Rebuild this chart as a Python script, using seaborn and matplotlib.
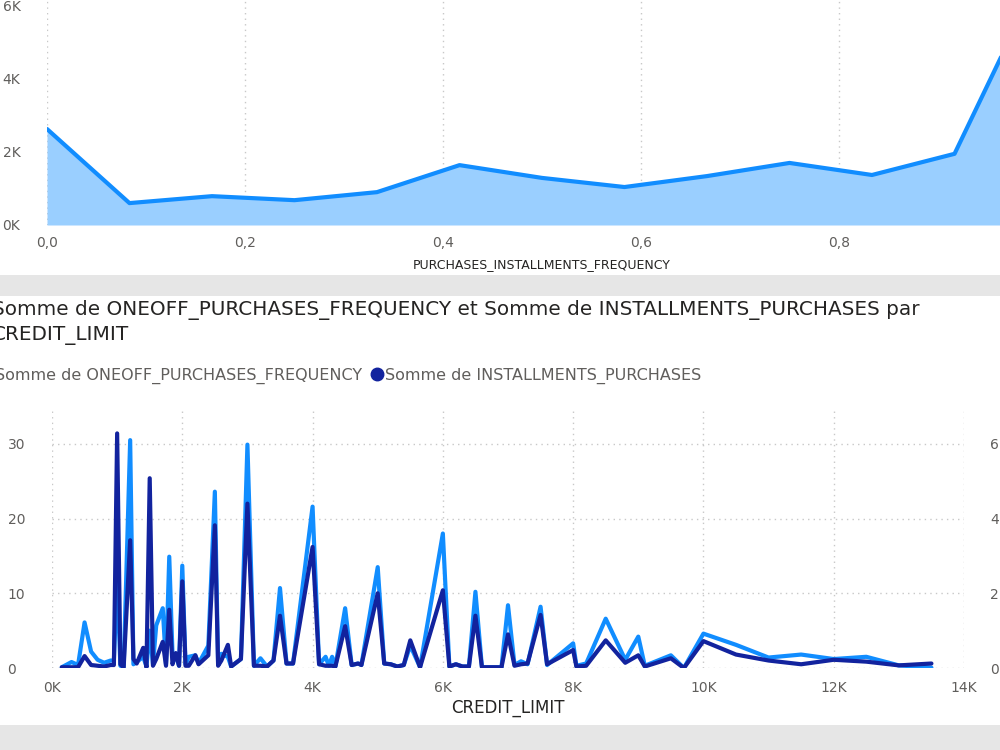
import pandas as pd
import seaborn as sns
import matplotlib.pyplot as plt
from matplotlib.patches import Rectangle
from matplotlib.lines import Line2D
from matplotlib.ticker import FuncFormatter

sns.set_theme(style="white")
plt.rcParams['font.family'] = ['DejaVu Sans']

# top panel: count by PURCHASES_INSTALLMENTS_FREQUENCY
freq_x = [0.0, 0.0833, 0.1667, 0.25, 0.3333, 0.4167, 0.5, 0.5833, 0.6667, 0.75, 0.8333, 0.9167, 1.0]
freq_count = [2630, 600, 790, 680, 900, 1640, 1290, 1040, 1340, 1700, 1370, 1950, 6650]

# bottom panel: sums by CREDIT_LIMIT
credit_limit = [150, 300, 400, 500, 600, 700, 800, 900, 950, 1000, 1050, 1100, 1200, 1250, 1300,
                1400, 1450, 1500, 1550, 1600, 1700, 1750, 1800, 1850, 1900, 1950, 2000, 2050, 2100,
                2200, 2250, 2400, 2500, 2550, 2600, 2700, 2750, 2900, 3000, 3100, 3200, 3300, 3400,
                3500, 3600, 3700, 4000, 4100, 4200, 4250, 4300, 4350, 4500, 4600, 4700, 4750, 5000,
                5100, 5200, 5300, 5400, 5500, 5650, 6000, 6100, 6200, 6300, 6400, 6500, 6600, 6900,
                7000, 7100, 7200, 7300, 7500, 7600, 8000, 8050, 8200, 8500, 8800, 9000, 9100, 9500,
                9700, 10000, 10500, 11000, 11500, 12000, 12500, 13000, 13500]
oneoff_freq = [0.1, 0.8, 0.4, 6.1, 2.2, 1.1, 0.7, 1.0, 1.0, 12.0, 0.3, 0.1, 30.5, 0.5, 0.8,
               1.5, 0.2, 5.0, 0.5, 5.7, 8.0, 0.5, 14.9, 1.8, 1.6, 0.3, 13.7, 0.5, 1.5,
               1.7, 0.6, 3.0, 23.6, 0.5, 1.9, 1.5, 0.2, 1.2, 29.9, 0.3, 1.3, 0.2, 1.0,
               10.7, 0.6, 0.6, 21.6, 0.5, 1.5, 0.3, 1.5, 0.2, 8.0, 0.4, 0.6, 0.4, 13.5,
               0.6, 0.5, 0.2, 0.4, 3.0, 0.1, 18.0, 0.2, 0.5, 0.2, 0.2, 10.2, 0.1, 0.1,
               8.4, 0.4, 0.9, 0.5, 8.2, 0.4, 3.3, 0.3, 0.6, 6.6, 1.1, 4.2, 0.3, 1.7,
               0.0, 4.6, 3.1, 1.4, 1.8, 1.2, 1.5, 0.35, 0.05]
installments = [20, 20, 20, 320, 80, 60, 40, 80, 80, 6280, 100, 20, 3420, 240, 120,
                540, 20, 5080, 60, 240, 700, 60, 1560, 100, 400, 60, 2320, 60, 60,
                340, 100, 340, 3820, 60, 200, 620, 40, 240, 4400, 60, 60, 40, 200,
                1400, 120, 120, 3240, 100, 60, 60, 60, 40, 1120, 80, 120, 80, 2000,
                120, 100, 40, 80, 740, 20, 2080, 40, 100, 40, 40, 1400, 20, 20,
                900, 60, 100, 120, 1420, 100, 480, 40, 60, 740, 140, 340, 40, 260,
                0, 720, 360, 200, 100, 220, 170, 70, 120]

top_df = pd.DataFrame({'PURCHASES_INSTALLMENTS_FREQUENCY': freq_x, 'count': freq_count})
bot_df = pd.DataFrame({'CREDIT_LIMIT': credit_limit,
                       'ONEOFF_PURCHASES_FREQUENCY': oneoff_freq,
                       'INSTALLMENTS_PURCHASES': installments})

light = '#118DFF'
dark = '#12239E'
fill = '#9ACFFF'
tick_col = '#605E5C'
grid_kw = dict(color='#C8C8C8', linestyle=(0, (1, 3)), linewidth=1)

fig = plt.figure(figsize=(10, 7.5), dpi=100)
fig.patch.set_facecolor('white')
# report canvas bands between the visuals
fig.patches.append(Rectangle((0, 1 - 296 / 750), 1, 21 / 750, transform=fig.transFigure,
                             facecolor='#E6E6E6', edgecolor='none', zorder=0))
fig.patches.append(Rectangle((0, 0), 1, 25 / 750, transform=fig.transFigure,
                             facecolor='#E6E6E6', edgecolor='none', zorder=0))

kfmt = FuncFormatter(lambda v, p: f"{v / 1000:.0f}K")

# ---- top area chart (cropped by the screenshot) ----
ax1 = fig.add_axes([0.047, 0.7, 0.99, 0.3407])
ax1.fill_between(top_df['PURCHASES_INSTALLMENTS_FREQUENCY'], top_df['count'], color=fill, lw=0)
sns.lineplot(data=top_df, x='PURCHASES_INSTALLMENTS_FREQUENCY', y='count', color=light,
             linewidth=3, ax=ax1, estimator=None)
ax1.set_xlim(0, 1.0)
ax1.set_ylim(0, 7000)
ax1.set_xticks([0, 0.2, 0.4, 0.6, 0.8, 1.0])
ax1.set_xticklabels(['0,0', '0,2', '0,4', '0,6', '0,8', '1,0'])
ax1.set_yticks([0, 2000, 4000, 6000])
ax1.yaxis.set_major_formatter(kfmt)
ax1.xaxis.grid(True, **grid_kw)
ax1.yaxis.grid(False)
ax1.set_axisbelow(True)
ax1.tick_params(axis='x', colors=tick_col, labelsize=10, length=0, pad=8)
ax1.tick_params(axis='y', colors=tick_col, labelsize=10, length=0, pad=32)
for lab in ax1.get_yticklabels():
    lab.set_horizontalalignment('left')
ax1.set_xlabel('PURCHASES_INSTALLMENTS_FREQUENCY', fontsize=9, color='#252423', labelpad=6)
ax1.set_ylabel('')
sns.despine(ax=ax1, left=True, bottom=True)

# ---- bottom dual-axis line chart ----
fig.text(-0.008, 1 - 310 / 750, 'Somme de ONEOFF_PURCHASES_FREQUENCY et Somme de INSTALLMENTS_PURCHASES par',
         fontsize=14.4, color='#252423', va='center', ha='left')
fig.text(-0.008, 1 - 336 / 750, 'CREDIT_LIMIT', fontsize=14.4, color='#252423', va='center', ha='left')

handles = [Line2D([], [], marker='o', linestyle='none', color=light, markersize=9),
           Line2D([], [], marker='o', linestyle='none', color=dark, markersize=9)]
fig.legend(handles, ['Somme de ONEOFF_PURCHASES_FREQUENCY', 'Somme de INSTALLMENTS_PURCHASES'],
           loc='center left', bbox_to_anchor=(-0.019, 1 - 376 / 750), ncol=2, frameon=False,
           handletextpad=0.1, columnspacing=0.5, handlelength=0.8, fontsize=11.5,
           labelcolor=tick_col, borderpad=0, borderaxespad=0)

ax2 = fig.add_axes([0.052, 1 - 668 / 750, 0.912, 260 / 750])
sns.lineplot(data=bot_df, x='CREDIT_LIMIT', y='ONEOFF_PURCHASES_FREQUENCY', color=light,
             linewidth=3, ax=ax2, estimator=None)
ax2.set_xlim(0, 14000)
ax2.set_ylim(0, 34.8)
ax2.set_xticks([0, 2000, 4000, 6000, 8000, 10000, 12000, 14000])
ax2.xaxis.set_major_formatter(kfmt)
ax2.set_yticks([0, 10, 20, 30])
ax2.grid(True, **grid_kw)
ax2.set_axisbelow(True)
ax2.tick_params(axis='x', colors=tick_col, labelsize=10, length=0, pad=9)
ax2.tick_params(axis='y', colors=tick_col, labelsize=10, length=0, pad=32)
for lab in ax2.get_yticklabels():
    lab.set_horizontalalignment('left')
ax2.set_xlabel('CREDIT_LIMIT', fontsize=12, color='#252423', labelpad=3)
ax2.set_ylabel('')
sns.despine(ax=ax2, left=True, bottom=True)

ax3 = ax2.twinx()
sns.lineplot(data=bot_df, x='CREDIT_LIMIT', y='INSTALLMENTS_PURCHASES', color=dark,
             linewidth=3, ax=ax3, estimator=None)
ax3.set_ylim(0, 6960)
ax3.set_yticks([0, 2000, 4000, 6000])
ax3.yaxis.set_major_formatter(kfmt)
ax3.tick_params(axis='y', colors=tick_col, labelsize=10, length=0, pad=19)
ax3.set_ylabel('')
ax3.grid(False)
sns.despine(ax=ax3, left=True, bottom=True, right=True)

fig.savefig('out.png', dpi=100)
